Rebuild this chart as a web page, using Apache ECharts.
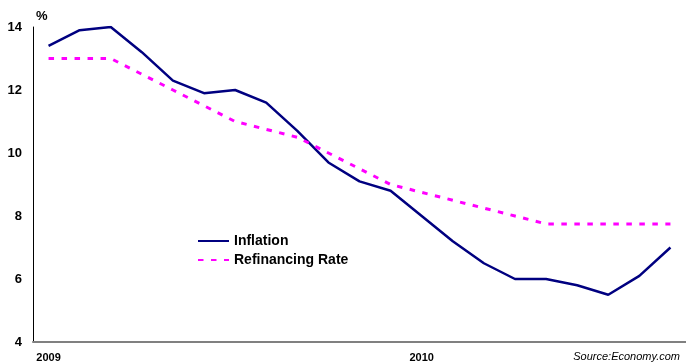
<!DOCTYPE html>
<html>
<head>
<meta charset="utf-8">
<script src="https://cdn.jsdelivr.net/npm/echarts@6/dist/echarts.min.js"></script>
<style>
  html, body { margin: 0; padding: 0; background: #fff; }
  #chart { width: 686px; height: 363px; }
</style>
</head>
<body>
<div id="chart"></div>
<script>
// Monthly observations, January 2009 to September 2010
const months = [
  '2009-01','2009-02','2009-03','2009-04','2009-05','2009-06','2009-07',
  '2009-08','2009-09','2009-10','2009-11','2009-12','2010-01','2010-02',
  '2010-03','2010-04','2010-05','2010-06','2010-07','2010-08','2010-09'
];
// Consumer price inflation, % year on year
const inflation = [
  13.4, 13.9, 14.0, 13.2, 12.3, 11.9, 12.0, 11.6, 10.7, 9.7, 9.1,
  8.8, 8.0, 7.2, 6.5, 6.0, 6.0, 5.8, 5.5, 6.1, 7.0
];
// Central bank refinancing rate, %
const refinancingRate = [
  13.0, 13.0, 13.0, 12.5, 12.0, 11.5, 11.0, 10.75, 10.5, 10.0, 9.5,
  9.0, 8.75, 8.5, 8.25, 8.0, 7.75, 7.75, 7.75, 7.75, 7.75
];
const yTicks = { min: 4, max: 14, step: 2 };

const FONT = '"Liberation Sans", Arial, sans-serif';
const chart = echarts.init(document.getElementById('chart'), null, { renderer: 'canvas' });

chart.setOption({
  animation: false,
  backgroundColor: '#ffffff',
  grid: { left: 33, right: 0, top: 27, bottom: 21, containLabel: false },
  legend: {
    orient: 'vertical',
    left: 197,
    top: 234,
    padding: 0,
    itemWidth: 31,
    itemHeight: 14,
    itemGap: 5,
    itemStyle: { opacity: 0 },
    textStyle: { fontFamily: FONT, fontWeight: 'bold', fontSize: 14, color: '#000' },
    data: ['Inflation', 'Refinancing Rate']
  },
  xAxis: {
    type: 'category',
    data: months,
    boundaryGap: true,
    axisLine: { show: true, lineStyle: { color: '#808080', width: 2 } },
    axisTick: { show: false },
    splitLine: { show: false },
    axisLabel: {
      interval: 0,
      margin: 10,
      fontFamily: FONT,
      fontWeight: 'bold',
      fontSize: 11,
      color: '#000',
      formatter: v => v.endsWith('-01') ? v.slice(0, 4) : ''
    }
  },
  yAxis: {
    type: 'value',
    min: yTicks.min,
    max: yTicks.max,
    interval: yTicks.step,
    axisLine: { show: true, lineStyle: { color: '#000', width: 1 } },
    axisTick: { show: false },
    splitLine: { show: false },
    axisLabel: {
      margin: 11,
      fontFamily: FONT,
      fontWeight: 'bold',
      fontSize: 13,
      color: '#000'
    }
  },
  graphic: [
    {
      type: 'text', left: 36, top: 10,
      style: { text: '%', fontFamily: FONT, fontWeight: 'bold', fontSize: 13, fill: '#000' }
    },
    {
      type: 'text', right: 6, top: 351,
      style: { text: 'Source:Economy.com', fontFamily: FONT, fontStyle: 'italic', fontSize: 11, fill: '#000' }
    }
  ],
  series: [
    {
      name: 'Inflation',
      type: 'line',
      data: inflation,
      symbol: 'none',
      lineStyle: { color: '#000080', width: 2.5 },
      itemStyle: { color: '#000080' }
    },
    {
      name: 'Refinancing Rate',
      type: 'line',
      data: refinancingRate,
      symbol: 'none',
      lineStyle: { color: '#ff00ff', width: 3, type: [5.5, 7.5] },
      itemStyle: { color: '#ff00ff' }
    }
  ]
});
</script>
</body>
</html>
